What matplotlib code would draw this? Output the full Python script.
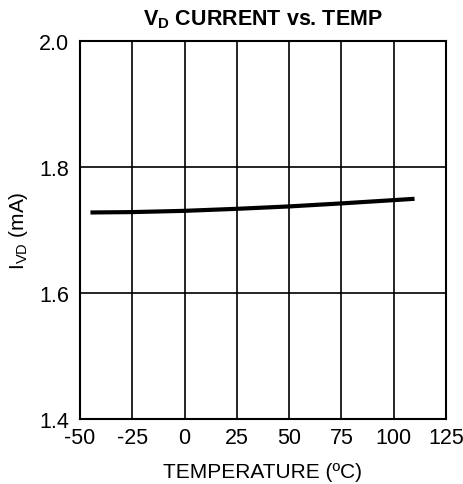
import matplotlib
matplotlib.use('Agg')
import matplotlib.pyplot as plt

temp = [-45, -25, 0, 25, 50, 75, 100, 110]
i_vd = [1.728, 1.7286, 1.7306, 1.7338, 1.7376, 1.7424, 1.7476, 1.7497]

x_ticks = [-50, -25, 0, 25, 50, 75, 100, 125]
y_ticks = [1.4, 1.6, 1.8, 2.0]

plt.rcParams['font.family'] = ['Liberation Sans', 'DejaVu Sans']
plt.rcParams['mathtext.fontset'] = 'custom'
plt.rcParams['mathtext.rm'] = 'Liberation Sans'
plt.rcParams['mathtext.bf'] = 'Liberation Sans:bold'
plt.rcParams['axes.unicode_minus'] = False

fig = plt.figure(figsize=(4.64, 4.85), dpi=100)
ax = fig.add_axes([0.1724, 0.134, 0.7886, 0.779])

ax.plot(temp, i_vd, color='black', lw=3, solid_capstyle='butt')

ax.set_xlim(-50, 125)
ax.set_ylim(1.4, 2.0)
ax.set_xticks(x_ticks)
ax.set_xticklabels([str(v) for v in x_ticks])
ax.set_yticks(y_ticks)
ax.set_yticklabels([f'{v:.1f}' for v in y_ticks])
ax.grid(True, color='black', lw=1.2)
ax.tick_params(length=0, labelsize=15.5)
ax.tick_params(axis='x', pad=6)
ax.tick_params(axis='y', pad=8)
for s in ax.spines.values():
    s.set_linewidth(1.5)

ax.set_xlabel('TEMPERATURE (ºC)', fontsize=15, labelpad=10)
ax.set_ylabel(r'I$_\mathregular{VD}$ (mA)', fontsize=15, labelpad=6)
ax.set_title(r'$\mathbf{V_D}$ CURRENT vs. TEMP', fontsize=15.5, fontweight='bold', pad=12)

fig.savefig('out.png', dpi=100)
